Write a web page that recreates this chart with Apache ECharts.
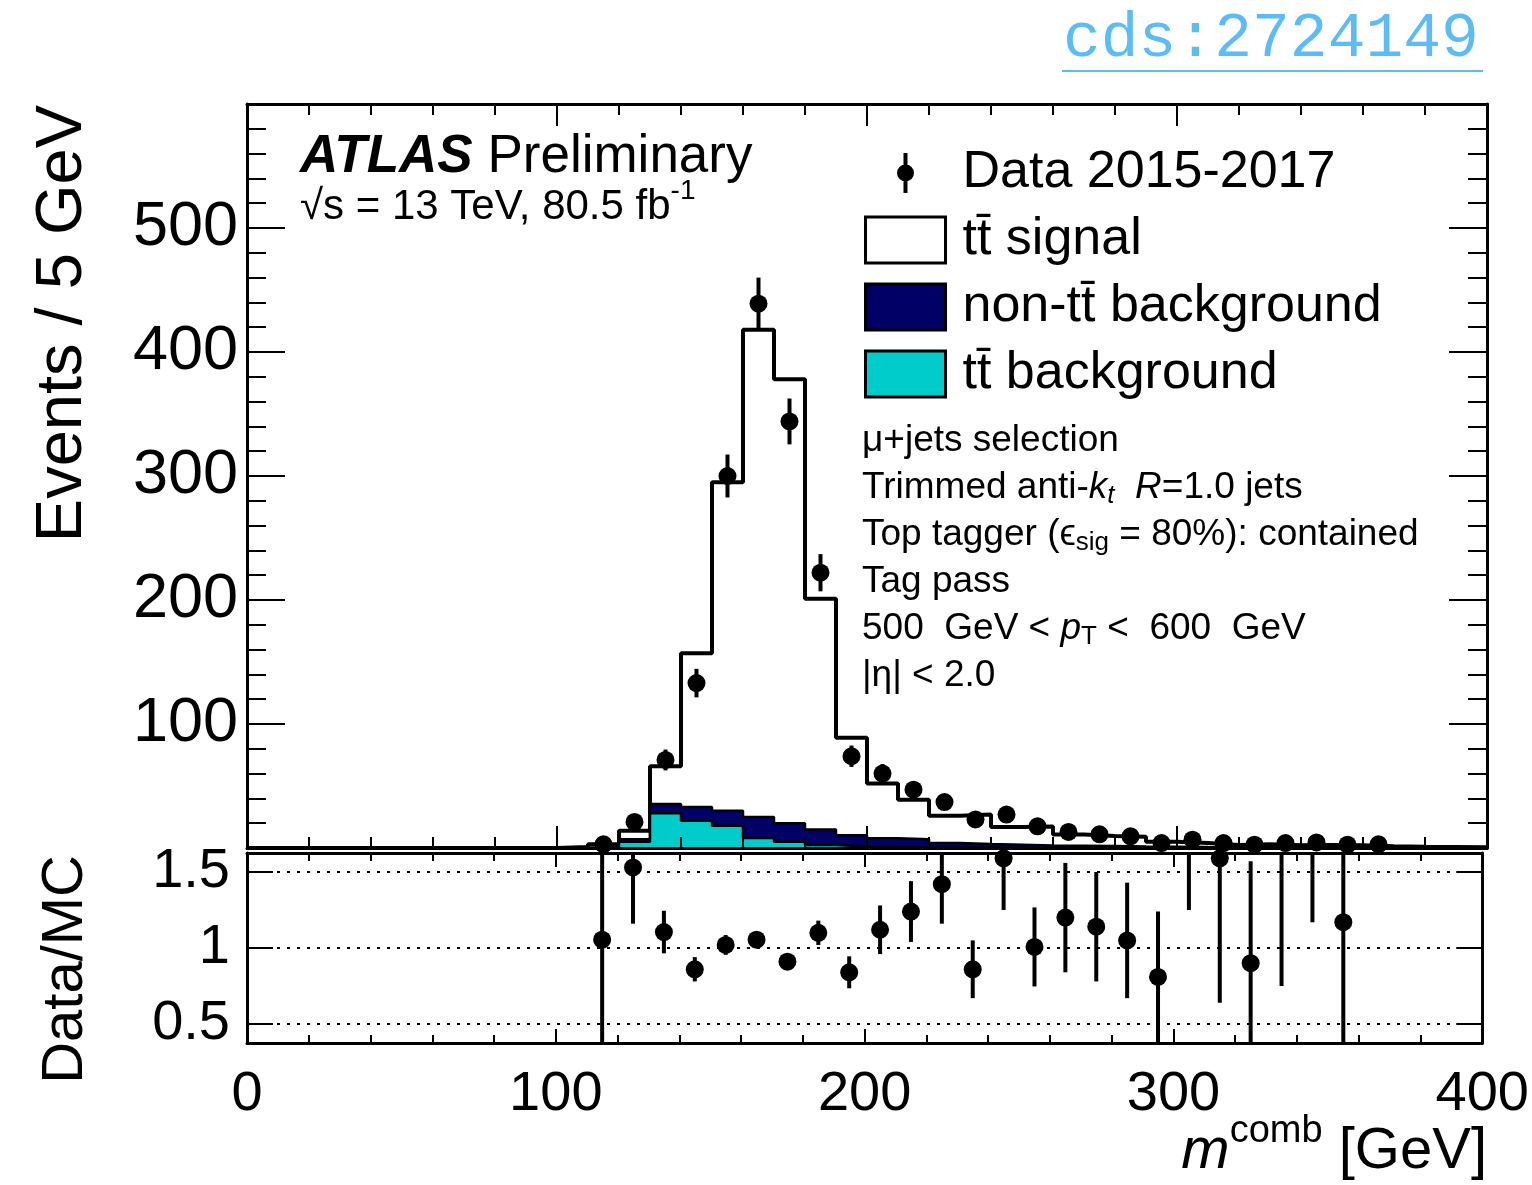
<!DOCTYPE html>
<html>
<head>
<meta charset="utf-8">
<title>m comb</title>
<script src="https://cdn.jsdelivr.net/npm/echarts@6/dist/echarts.min.js"></script>
<style>
html, body { margin: 0; padding: 0; background: #fff; }
#chart { width: 1532px; height: 1185px; }
</style>
</head>
<body>
<div id="chart"></div>
<script>
var FONT = '"Liberation Sans", Arial, Helvetica, sans-serif';

// histogram bins (lower edge, 10 GeV wide)
var binLo = [100, 110, 120, 130, 140, 150, 160, 170, 180, 190, 200, 210, 220, 230, 240,
    250, 260, 270, 280, 290, 300, 310, 320, 330, 340, 350, 360, 370, 380, 390];
var ttBkg = [0, 0.3, 5, 28, 22, 18, 8, 5, 2.5, 1.3, 0.8, 0.5, 0.3, 0.3, 0.2,
    0.1, 0.1, 0.1, 0.1, 0.1, 0, 0, 0, 0, 0, 0, 0, 0, 0, 0];
var nonTtBkg = [0.3, 0.5, 2, 7.5, 11, 12, 17, 15, 12.5, 9, 7, 6.5, 3.7, 3, 2.5,
    2, 1.8, 1.5, 1.2, 1, 0.8, 0.7, 0.6, 0.5, 0.5, 0.4, 0.3, 0.3, 0.2, 0.2];
var ttSignal = [0.5, 2.2, 7, 30.5, 124, 265, 393, 358, 186, 78.7, 44.2, 32, 22, 23.7, 14.3,
    15.3, 8.9, 8.0, 7.7, 3.9, 3.2, 1.8, 2.4, 1.8, 2.0, 1.9, 1.2, 0.7, 0.6, 0.4];

// data points
var dataX = [115, 125, 135, 145, 155, 165, 175, 185, 195, 205, 215, 225, 235, 245, 255,
    265, 275, 285, 295, 305, 315, 325, 335, 345, 355, 365];
var dataY = [3, 21, 71, 133, 300, 439, 344, 222, 74, 60, 47, 37, 23, 27, 17.5,
    13, 11, 9.4, 4, 6.7, 4, 2.7, 4, 4.5, 2.7, 3];
var dataErr = [1.7, 4.6, 8.4, 11.5, 17.3, 21, 18.5, 15, 8.6, 7.7, 6.9, 6.1, 4.8, 5.2, 4.2,
    3.6, 3.3, 3.1, 2, 2.6, 2, 1.6, 2, 2.1, 1.6, 1.7];

// Data/MC
var ratioY = [1.055, 1.53, 1.105, 0.86, 1.02, 1.055, 0.91, 1.10, 0.84, 1.12, 1.24, 1.42, 0.86, 1.59, 1.007,
    1.20, 1.14, 1.05, 0.81, 1.70, 1.59, 0.90, 1.75, 1.80, 1.17, 3.0];
var ratioErr = [1.0, 0.37, 0.14, 0.08, 0.065, 0.05, 0.05, 0.08, 0.105, 0.16, 0.2, 0.26, 0.19, 0.34, 0.26,
    0.36, 0.36, 0.38, 0.43, 0.45, 0.95, 0.67, 1.0, 0.63, 1.2, 1.2];

var mainTicks = [0, 100, 200, 300, 400, 500, 600];
var ratioTicks = [0.5, 1, 1.5];

var TT = 't\u0074\u0304';
var names = ['Data 2015-2017', TT + ' signal', 'non-' + TT + ' background', TT + ' background'];

// stack like THStack: every layer drawn from zero, upper layers first
var navyTop = ttBkg.map(function (v, i) { return v + nonTtBkg[i]; });
var totalTop = navyTop.map(function (v, i) { return v + ttSignal[i]; });

function stepData(vals) {
    var pts = [[0, 0]];
    for (var i = 0; i < binLo.length; i++) {
        pts.push([binLo[i], vals[i]]);
    }
    pts.push([400, vals[vals.length - 1]]);
    return pts;
}

function errData(ys, errs) {
    return dataX.map(function (x, i) { return [x, ys[i], errs[i]]; });
}

function errBars(params, api) {
    var x = api.value(0), y = api.value(1), e = api.value(2);
    var p1 = api.coord([x, y - e]);
    var p2 = api.coord([x, y + e]);
    return {
        type: 'line',
        shape: { x1: p1[0], y1: p1[1], x2: p2[0], y2: p2[1] },
        style: { stroke: '#000', lineWidth: 4 }
    };
}

function mkX(grid, pos, labels, tickLen, minorLen) {
    return {
        type: 'value', gridIndex: grid, position: pos, min: 0, max: 400, interval: 100, z: 10,
        axisLine: { show: true, onZero: false, lineStyle: { color: '#000', width: 3 } },
        axisTick: { show: true, inside: true, length: tickLen, lineStyle: { color: '#000', width: 2 } },
        minorTick: { show: true, splitNumber: 5, length: minorLen, lineStyle: { color: '#000', width: 2 } },
        splitLine: { show: false },
        minorSplitLine: { show: false },
        axisLabel: { show: labels, fontSize: 56, color: '#000', margin: 24, fontFamily: FONT }
    };
}

function mkYMain(pos, labels) {
    return {
        type: 'value', gridIndex: 0, position: pos, min: 0, max: 600, interval: 100, z: 10,
        axisLine: { show: true, onZero: false, lineStyle: { color: '#000', width: 3 } },
        axisTick: { show: true, inside: true, length: 38, lineStyle: { color: '#000', width: 2 } },
        minorTick: { show: true, splitNumber: 5, length: 19, lineStyle: { color: '#000', width: 2 } },
        splitLine: { show: false },
        axisLabel: {
            show: labels, fontSize: 63, color: '#000', margin: 9, fontFamily: FONT,
            formatter: function (v) { return (v === mainTicks[0] || v === mainTicks[mainTicks.length - 1]) ? '' : String(v); }
        }
    };
}

function mkYRatio(pos, labels) {
    return {
        type: 'value', gridIndex: 1, position: pos, min: 0.375, max: 1.625, z: 10,
        axisLine: { show: true, onZero: false, lineStyle: { color: '#000', width: 3 } },
        axisTick: { show: true, inside: true, length: 26, customValues: ratioTicks, lineStyle: { color: '#000', width: 2 } },
        splitLine: { show: false },
        axisLabel: {
            show: labels, customValues: ratioTicks, fontSize: 56, color: '#000', margin: 17, fontFamily: FONT,
            formatter: function (v) { return String(v); }
        }
    };
}

var subRich = {
    n: { fontSize: 37, lineHeight: 42, fontFamily: FONT, color: '#000' },
    i: { fontSize: 37, lineHeight: 42, fontFamily: FONT, fontStyle: 'italic', color: '#000' },
    s: { fontSize: 26, fontFamily: FONT, verticalAlign: 'bottom', color: '#000' },
    si: { fontSize: 26, fontFamily: FONT, fontStyle: 'italic', verticalAlign: 'bottom', color: '#000' }
};

function note(y, text) {
    return { type: 'text', x: 862, y: y, z: 20, style: { text: text, rich: subRich, verticalAlign: 'middle', fill: '#000', font: '37px ' + FONT } };
}

function histLine(name, vals, fill, width, z) {
    return {
        name: name, type: 'line', xAxisIndex: 0, yAxisIndex: 0, step: 'end',
        symbol: 'none', silent: true, z: z, data: stepData(vals),
        itemStyle: { color: fill },
        lineStyle: { color: '#000', width: width },
        areaStyle: { color: fill, opacity: 1, origin: 'start' }
    };
}

var chart = echarts.init(document.getElementById('chart'));
var option = {
    animation: false,
    backgroundColor: '#fff',
    textStyle: { fontFamily: FONT },
    grid: [
        { left: 247, top: 104, width: 1240, height: 744 },
        { left: 247, top: 853, width: 1240, height: 190 }
    ],
    xAxis: [
        mkX(0, 'bottom', false, 22, 11),
        mkX(0, 'top', false, 22, 11),
        mkX(1, 'bottom', true, 14, 8),
        mkX(1, 'top', false, 14, 8)
    ],
    yAxis: [
        mkYMain('left', true),
        mkYMain('right', false),
        mkYRatio('left', true),
        mkYRatio('right', false)
    ],
    legend: {
        orient: 'vertical', left: 864, top: 147, padding: 0, itemWidth: 80, itemHeight: 46, itemGap: 15,
        selectedMode: false,
        textStyle: { fontSize: 52, color: '#000', fontFamily: FONT, padding: [0, 0, 0, 12] },
        data: [
            { name: names[0], icon: 'path://M0,0 L0.01,0 L0,0.01 Z M80,46 L79.99,46 L80,45.99 Z M38,3 L42,3 L42,16 L38,16 Z M38,30 L42,30 L42,43 L38,43 Z M31.5,23 A8.5,8.5 0 1,1 48.5,23 A8.5,8.5 0 1,1 31.5,23 Z',
              itemStyle: { color: '#000', borderWidth: 0, opacity: 1 } },
            { name: names[1], icon: 'rect', itemStyle: { color: '#ffffff', borderColor: '#000', borderWidth: 3 } },
            { name: names[2], icon: 'rect', itemStyle: { color: '#000066', borderColor: '#000', borderWidth: 3 } },
            { name: names[3], icon: 'rect', itemStyle: { color: '#00cccc', borderColor: '#000', borderWidth: 3 } }
        ]
    },
    graphic: [
        // cds link
        { type: 'text', x: 1063, y: 39, style: { text: 'cds:2724149', font: '63px "Liberation Mono", "DejaVu Sans Mono", monospace', fill: '#5bbcf8', verticalAlign: 'middle' } },
        { type: 'line', shape: { x1: 1062, y1: 71, x2: 1483, y2: 71 }, style: { stroke: '#5bbcf8', lineWidth: 2 } },
        // ATLAS label
        { type: 'text', x: 300, y: 157, z: 20, style: {
            text: '{b|ATLAS }{n|Preliminary}', verticalAlign: 'middle', fill: '#000',
            rich: {
                b: { fontSize: 53, fontWeight: 'bold', fontStyle: 'italic', fontFamily: FONT, color: '#000' },
                n: { fontSize: 53, fontFamily: FONT, color: '#000' }
            } } },
        { type: 'text', x: 300, y: 207, z: 20, style: {
            text: '{n|\u221As = 13 TeV, 80.5 fb}{p|-1}', verticalAlign: 'middle', fill: '#000',
            rich: {
                n: { fontSize: 42, lineHeight: 60, fontFamily: FONT, color: '#000' },
                p: { fontSize: 28, fontFamily: FONT, verticalAlign: 'top', color: '#000' }
            } } },
        // selection notes
        note(441, '{n|\u03BC+jets selection}'),
        note(488, '{n|Trimmed anti-}{i|k}{si|t}{n|  }{i|R}{n|=1.0 jets}'),
        note(535, '{n|Top tagger (\u03F5}{s|sig}{n| = 80%): contained}'),
        note(582, '{n|Tag pass}'),
        note(629, '{n|500  GeV < }{i|p}{s|T}{n| <  600  GeV}'),
        { type: 'text', x: 862, y: 676, z: 20, style: { text: '|\u03B7| < 2.0', font: '37px ' + FONT, fill: '#000', verticalAlign: 'middle' } },
        // axis titles
        { type: 'text', x: 63, y: 105, rotation: Math.PI / 2, style: { text: 'Events / 5 GeV', font: '65px ' + FONT, fill: '#000', align: 'right', verticalAlign: 'middle' } },
        { type: 'text', x: 66, y: 855, rotation: Math.PI / 2, style: { text: 'Data/MC', font: '58px ' + FONT, fill: '#000', align: 'right', verticalAlign: 'middle' } },
        { type: 'text', x: 1487, y: 1152, style: {
            text: '{i|m}{p|comb}{n| [GeV]}', align: 'right', verticalAlign: 'middle', fill: '#000',
            rich: {
                i: { fontSize: 58, lineHeight: 78, fontStyle: 'italic', fontFamily: FONT, color: '#000' },
                p: { fontSize: 38, fontFamily: FONT, verticalAlign: 'top', color: '#000' },
                n: { fontSize: 58, lineHeight: 78, fontFamily: FONT, color: '#000' }
            } } }
    ],
    series: [
        histLine(names[1], totalTop, '#ffffff', 4, 3),
        histLine(names[2], navyTop, '#000066', 2.5, 4),
        histLine(names[3], ttBkg, '#00cccc', 2.5, 5),
        {
            type: 'custom', xAxisIndex: 0, yAxisIndex: 0, clip: true, z: 8, silent: true,
            data: errData(dataY, dataErr), encode: { x: 0, y: 1 }, renderItem: errBars
        },
        {
            name: names[0], type: 'scatter', xAxisIndex: 0, yAxisIndex: 0, z: 9, silent: true,
            symbol: 'circle', symbolSize: 18, itemStyle: { color: '#000', opacity: 1 },
            data: dataX.map(function (x, i) { return [x, dataY[i]]; })
        },
        {
            type: 'custom', xAxisIndex: 2, yAxisIndex: 2, clip: true, z: 8, silent: true,
            data: errData(ratioY, ratioErr), encode: { x: 0, y: 1 }, renderItem: errBars
        },
        {
            type: 'scatter', xAxisIndex: 2, yAxisIndex: 2, z: 9, silent: true, clip: true,
            symbol: 'circle', symbolSize: 18, itemStyle: { color: '#000', opacity: 1 },
            data: dataX.map(function (x, i) { return [x, ratioY[i]]; }),
            markLine: {
                silent: true, symbol: ['none', 'none'], label: { show: false },
                lineStyle: { color: '#000', width: 2, type: [3, 7] },
                data: ratioTicks.map(function (v) { return { yAxis: v }; })
            }
        }
    ]
};
chart.setOption(option);
</script>
</body>
</html>
